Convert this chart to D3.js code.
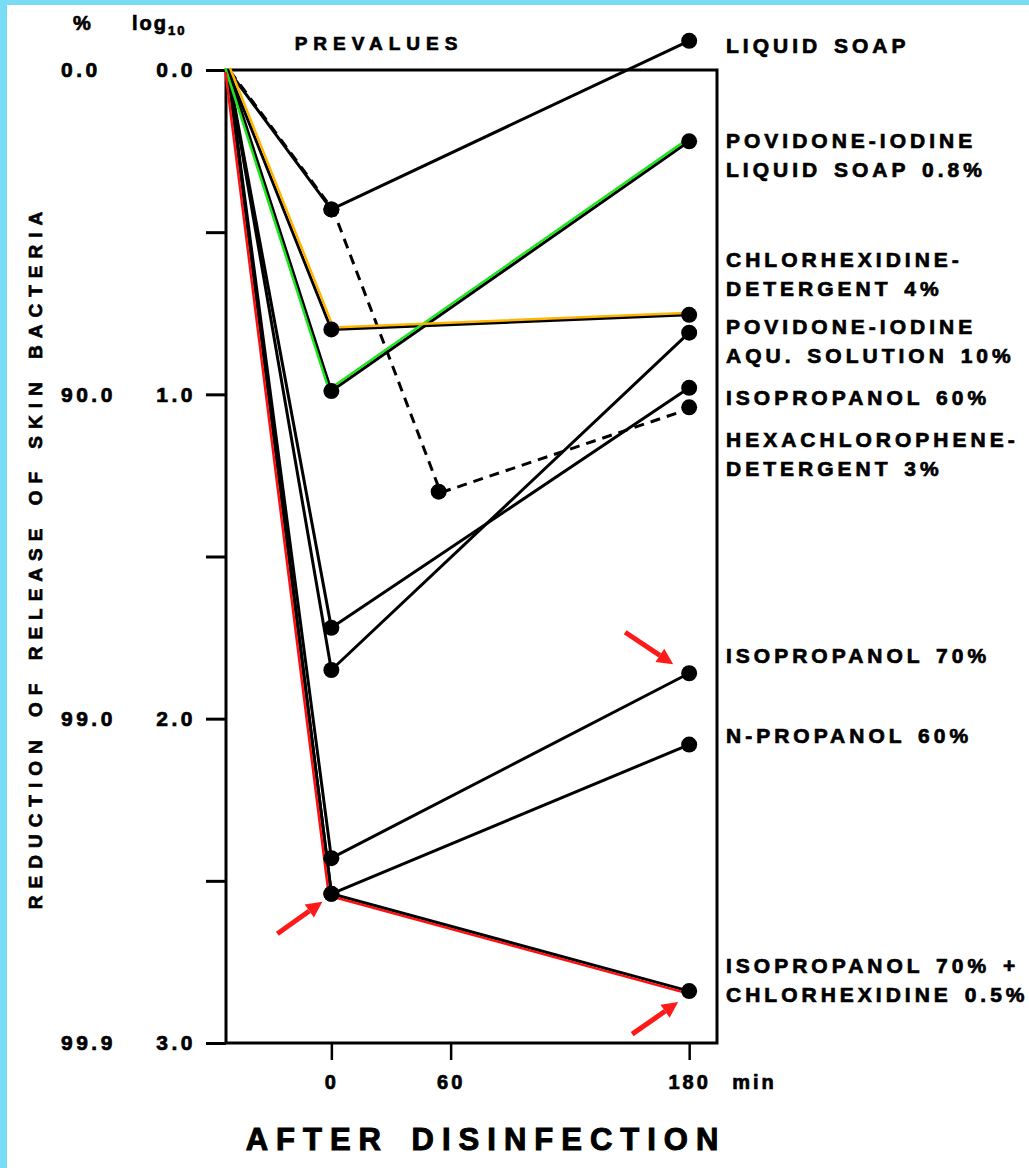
<!DOCTYPE html>
<html>
<head>
<meta charset="utf-8">
<script src="https://cdn.jsdelivr.net/npm/d3@7"></script>
<style>
  body { margin: 0; background: #fff; }
  svg text { font-family: "Liberation Sans", Arial, sans-serif; font-weight: bold; fill: #000;
    stroke: #000; stroke-width: 0.7px; }
</style>
</head>
<body>
<div id="chart"></div>
<script>
// prevalue is plotted left of the 0 min tick
const PRE = -52;

// [minutes after disinfection, log10 reduction]
const liquidSoap       = [[PRE, 0], [0, 0.43], [180, -0.09]];
const povidoneSoap     = [[PRE, 0], [0, 0.99], [180, 0.22]];
const chlorhexidineDet = [[PRE, 0], [0, 0.80], [180, 0.755]];
const povidoneAqu      = [[PRE, 0], [0, 1.85], [180, 0.81]];
const isopropanol60    = [[PRE, 0], [0, 1.72], [180, 0.98]];
const hexachlorophene  = [[PRE, 0], [0, 0.43], [54, 1.30], [180, 1.04]];
const isopropanol70    = [[PRE, 0], [0, 2.43], [180, 1.86]];
const nPropanol60      = [[PRE, 0], [0, 2.54], [180, 2.08]];
const isoChlorhexidine = [[PRE, 0], [0, 2.54], [180, 2.84]];

const seriesLabels = [
  ["LIQUID SOAP"],
  ["POVIDONE-IODINE", "LIQUID SOAP 0.8%"],
  ["CHLORHEXIDINE-", "DETERGENT 4%"],
  ["POVIDONE-IODINE", "AQU. SOLUTION 10%"],
  ["ISOPROPANOL 60%"],
  ["HEXACHLOROPHENE-", "DETERGENT 3%"],
  ["ISOPROPANOL 70%"],
  ["N-PROPANOL 60%"],
  ["ISOPROPANOL 70% +", "CHLORHEXIDINE 0.5%"]
];
const seriesData = [liquidSoap, povidoneSoap, chlorhexidineDet, povidoneAqu, isopropanol60,
  hexachlorophene, isopropanol70, nPropanol60, isoChlorhexidine];

const logTicks = [0, 0.5, 1, 1.5, 2, 2.5, 3];
const logLabels = [0, 1, 2, 3];
const minuteTicks = [0, 60, 180];

// ---- layout / style ----
const W = 1029, H = 1168;
const frame = { left: 226, right: 717, top: 70, bottom: 1043 };
const labelBaselines = [53, 148, 267, 334, 405, 447, 663, 743, 973];
const dashed = [false, false, false, false, false, true, false, false, false];
// coloured pen overlays drawn next to some lines
const overlays = [
  { idx: 1, color: "#1ee61e", dx: -2.5, dy: -1.5 },
  { idx: 2, color: "#ffb400", dx: 2, dy: -2 },
  { idx: 8, color: "#ff1010", dx: -2.5, dy: 2 }
];
// red arrows: series, point index, tail offset, tip offset
const arrows = [
  { idx: 8, p: 1, tail: [-54, 40], tip: [-9, 8] },
  { idx: 6, p: 2, tail: [-64, -41], tip: [-16, -9] },
  { idx: 8, p: 2, tail: [-57, 43], tip: [-11, 11] }
];

const svg = d3.select("#chart").append("svg")
  .attr("width", W)
  .attr("height", H);

svg.append("rect").attr("width", W).attr("height", H).attr("fill", "#fff");
svg.append("rect").attr("width", W).attr("height", 5).attr("fill", "#79dcf5");
svg.append("rect").attr("width", 7).attr("height", H).attr("fill", "#79dcf5");

const x = d3.scaleLinear().domain([-53, 194]).range([frame.left, frame.right]);
const y = d3.scaleLinear().domain([0, 3]).range([frame.top, frame.bottom]);

// frame
svg.append("rect")
  .attr("x", frame.left).attr("y", frame.top)
  .attr("width", frame.right - frame.left).attr("height", frame.bottom - frame.top)
  .attr("fill", "none").attr("stroke", "#000").attr("stroke-width", 3);

// log axis
const logAxis = svg.append("g")
  .attr("transform", `translate(${frame.left},0)`)
  .call(d3.axisLeft(y).tickValues(logTicks).tickSize(20).tickPadding(10)
    .tickFormat(d => logLabels.includes(d) ? d3.format(".1f")(d) : ""));
logAxis.select(".domain").remove();
logAxis.selectAll("line").attr("stroke", "#000").attr("stroke-width", 3);
logAxis.selectAll("text").style("font-size", "21px").style("letter-spacing", "3.5px")
  .attr("fill", "#000");

// percent axis
const pctAxis = svg.append("g")
  .attr("transform", "translate(61,0)")
  .call(d3.axisLeft(y).tickValues(logLabels).tickSize(0).tickPadding(0)
    .tickFormat(d => d3.format(".1f")(100 * (1 - Math.pow(10, -d)))));
pctAxis.select(".domain").remove();
pctAxis.selectAll("text").attr("text-anchor", "start").attr("x", 0)
  .style("font-size", "21px").style("letter-spacing", "3.5px").attr("fill", "#000");

// minute axis
const minAxis = svg.append("g")
  .attr("transform", `translate(0,${frame.bottom})`)
  .call(d3.axisBottom(x).tickValues(minuteTicks).tickSize(17).tickPadding(15)
    .tickFormat(d3.format("d")));
minAxis.select(".domain").remove();
minAxis.selectAll("line").attr("stroke", "#000").attr("stroke-width", 2.5);
minAxis.selectAll("text").style("font-size", "20px").style("letter-spacing", "3px")
  .attr("fill", "#000");
svg.append("text")
  .attr("x", x(180) + 43).attr("y", 1089)
  .style("font-size", "20px").style("letter-spacing", "3px")
  .text("min");

// headers
svg.append("text").attr("x", 73).attr("y", 30).style("font-size", "20px").text("%");
const logHead = svg.append("text").attr("x", 132).attr("y", 30)
  .style("font-size", "20px").style("letter-spacing", "2px");
logHead.append("tspan").text("log");
logHead.append("tspan").attr("dy", 5).style("font-size", "13px").text("10");

svg.append("text")
  .attr("x", 379).attr("y", 50)
  .attr("text-anchor", "middle")
  .style("font-size", "19px").style("letter-spacing", "6px")
  .text("PREVALUES");

svg.append("text")
  .attr("transform", "translate(42,557) rotate(-90)")
  .attr("text-anchor", "middle")
  .style("font-size", "19px").style("letter-spacing", "7px").style("word-spacing", "4px")
  .text("REDUCTION OF RELEASE OF SKIN BACTERIA");

svg.append("text")
  .attr("x", 486).attr("y", 1150)
  .attr("text-anchor", "middle")
  .style("font-size", "31px").style("letter-spacing", "8px").style("word-spacing", "6px")
  .style("stroke-width", "1px")
  .text("AFTER DISINFECTION");

// lines
const line = d3.line().x(d => x(d[0])).y(d => y(d[1]));

svg.append("g").selectAll("path")
  .data(seriesData)
  .join("path")
  .attr("d", d => line(d))
  .attr("fill", "none")
  .attr("stroke", "#000")
  .attr("stroke-width", 3)
  .attr("stroke-linejoin", "round")
  .attr("stroke-dasharray", (d, i) => dashed[i] ? "10,7" : null)
  .attr("transform", (d, i) => dashed[i] ? "translate(2,1)" : null);

svg.append("g").selectAll("path")
  .data(overlays)
  .join("path")
  .attr("d", o => line(seriesData[o.idx]))
  .attr("fill", "none")
  .attr("stroke", o => o.color)
  .attr("stroke-width", 2.5)
  .attr("transform", o => `translate(${o.dx},${o.dy})`);

// dots (not the prevalue point)
const dots = seriesData.flatMap((s, i) => s.filter(p => p[0] !== PRE).map(p => ({ p, i })));
svg.append("g").selectAll("circle")
  .data(dots)
  .join("circle")
  .attr("cx", d => x(d.p[0]))
  .attr("cy", d => y(d.p[1]))
  .attr("r", 8)
  .attr("fill", "#000");

// series labels
const lab = svg.append("g");
seriesLabels.forEach((lines, i) => {
  lines.forEach((t, j) => {
    lab.append("text")
      .attr("x", 726)
      .attr("y", labelBaselines[i] + j * 29)
      .style("font-size", "21px")
      .style("letter-spacing", "4px")
      .style("word-spacing", "3px")
      .text(t);
  });
});

// red arrows
arrows.forEach(a => {
  const pt = seriesData[a.idx][a.p];
  const px = x(pt[0]), py = y(pt[1]);
  const x0 = px + a.tail[0], y0 = py + a.tail[1];
  const x1 = px + a.tip[0], y1 = py + a.tip[1];
  const ang = Math.atan2(y1 - y0, x1 - x0);
  const headL = 16, headW = 8;
  const bx = x1 - headL * Math.cos(ang), by = y1 - headL * Math.sin(ang);
  svg.append("line")
    .attr("x1", x0).attr("y1", y0).attr("x2", bx).attr("y2", by)
    .attr("stroke", "#ff1a1a").attr("stroke-width", 5);
  const nx = -Math.sin(ang) * headW, ny = Math.cos(ang) * headW;
  svg.append("path")
    .attr("d", `M${x1},${y1}L${bx + nx},${by + ny}L${bx - nx},${by - ny}Z`)
    .attr("fill", "#ff1a1a");
});
</script>
</body>
</html>
